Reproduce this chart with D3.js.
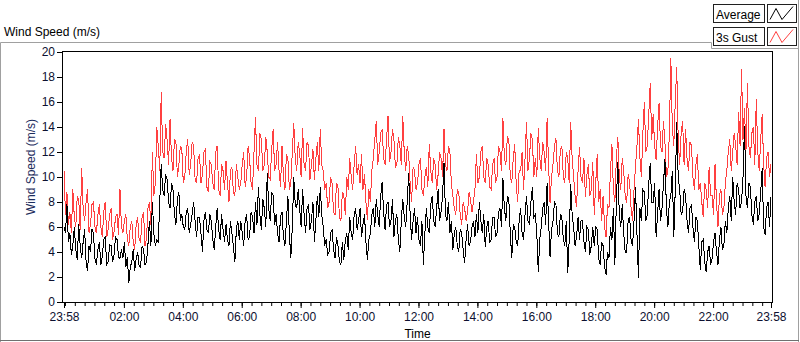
<!DOCTYPE html>
<html>
<head>
<meta charset="utf-8">
<script src="https://cdn.jsdelivr.net/npm/d3@7"></script>
<style>
  body { margin: 0; background: #fff; }
  svg { display: block; font-family: "Liberation Sans", Arial, sans-serif; }
</style>
</head>
<body>
<div id="chart"></div>
<script>
// one sample every 3 minutes, from 23:58 to 23:58 next day
var stepMinutes = 3;

var gustSpeed = [
  10.5, 7.0, 8.8, 6.2, 7.2, 5.5, 9.0, 6.8, 6.0, 8.5, 8.2, 5.8, 10.7, 7.5, 6.5, 8.0, 9.0, 5.5, 6.2, 7.8,
  8.0, 6.0, 5.5, 7.0, 7.8, 6.0, 5.2, 7.2, 8.0, 5.2, 5.8, 7.0, 7.5, 5.0, 5.6, 6.8, 7.0, 5.4, 9.0, 6.0,
  5.5, 6.5, 7.0, 5.0, 4.5, 6.0, 6.5, 4.8, 4.2, 6.2, 6.8, 5.0, 4.8, 6.8, 7.2, 4.5, 5.0, 7.5, 8.0, 6.2,
  12.0, 8.5, 9.5, 14.0, 12.5, 10.5, 16.8, 12.0, 11.5, 14.2, 13.0, 11.0, 14.6, 11.5, 10.5, 13.0, 12.8, 10.0, 11.0, 12.5,
  12.2, 9.5, 10.0, 12.0, 13.0, 10.2, 11.0, 12.8, 12.5, 9.8, 9.5, 11.5, 11.8, 9.5, 10.2, 12.0, 12.2, 9.2, 8.8, 11.2,
  11.0, 9.5, 9.0, 12.0, 12.5, 9.0, 8.5, 11.0, 10.5, 9.0, 11.3, 9.5, 8.0, 10.5, 10.8, 8.8, 8.5, 11.0, 10.0, 9.0,
  9.5, 11.0, 12.0, 9.2, 10.0, 12.5, 11.5, 9.5, 9.0, 12.0, 14.8, 11.0, 10.5, 13.5, 13.0, 10.5, 11.0, 13.2, 12.0, 10.0,
  9.8, 12.2, 13.8, 10.5, 11.0, 12.8, 10.5, 9.2, 12.5, 10.0, 9.0, 11.8, 11.5, 9.0, 9.5, 12.0, 14.3, 11.5, 10.5, 12.8,
  12.0, 10.0, 13.9, 11.0, 10.5, 12.8, 12.5, 9.8, 11.0, 12.2, 9.8, 11.5, 12.8, 10.5, 13.8, 11.0, 10.5, 9.0, 9.5, 7.5,
  8.0, 10.0, 9.5, 7.2, 7.0, 9.5, 9.2, 6.8, 6.5, 8.8, 8.5, 7.0, 10.0, 9.0, 11.5, 10.0, 9.0, 11.0, 12.5, 10.2,
  11.0, 9.5, 11.8, 9.0, 10.2, 8.0, 6.6, 9.0, 8.0, 10.5, 11.5, 13.0, 14.5, 11.0, 12.0, 13.5, 13.8, 11.5, 11.0, 13.0,
  14.9, 11.2, 12.0, 13.8, 13.0, 10.8, 11.0, 13.2, 12.5, 11.0, 14.9, 12.0, 10.5, 12.5, 11.8, 9.5, 8.0, 10.8, 10.5, 9.0,
  9.5, 11.0, 11.5, 9.0, 8.5, 10.0, 10.8, 9.2, 12.6, 10.5, 9.5, 11.5, 11.0, 9.0, 10.2, 12.0, 11.5, 10.0, 13.8, 11.0,
  10.5, 12.5, 12.0, 9.5, 8.5, 7.5, 7.0, 9.0, 8.8, 7.0, 6.2, 8.0, 7.5, 6.5, 7.2, 8.8, 8.2, 7.2, 8.0, 9.0,
  11.8, 9.5, 10.0, 12.0, 12.5, 10.0, 9.5, 11.5, 11.0, 9.2, 9.0, 11.0, 11.5, 9.5, 10.0, 12.5, 12.0, 10.5, 14.7, 11.5,
  11.0, 13.2, 13.0, 10.0, 9.5, 11.5, 12.6, 9.5, 8.0, 10.5, 10.5, 12.0, 9.0, 11.5, 14.4, 10.5, 11.5, 13.5, 13.0, 10.0,
  11.5, 10.0, 13.9, 11.5, 10.5, 12.8, 12.0, 10.5, 14.7, 11.0, 7.9, 10.0, 11.0, 12.5, 13.1, 10.5, 10.0, 12.2, 12.5, 10.0,
  9.5, 12.0, 11.5, 9.5, 14.4, 11.5, 10.0, 8.5, 7.6, 10.5, 12.4, 10.0, 9.5, 11.5, 8.4, 10.2, 11.0, 8.5, 9.0, 11.2,
  7.0, 9.5, 11.8, 8.0, 9.0, 6.5, 8.5, 6.0, 5.2, 7.8, 7.5, 10.5, 12.6, 9.0, 8.0, 11.5, 13.2, 10.0, 9.0, 11.5,
  10.5, 8.5, 7.9, 10.2, 9.6, 7.5, 6.5, 9.0, 10.8, 12.5, 14.6, 11.5, 10.0, 13.5, 16.0, 12.0, 12.5, 15.0, 17.5, 13.0,
  15.0, 12.5, 11.4, 14.0, 15.9, 12.5, 12.0, 14.5, 12.8, 10.0, 10.5, 13.5, 19.5, 14.0, 12.5, 16.0, 18.8, 13.0, 11.0, 13.5,
  14.5, 11.0, 13.8, 11.5, 10.5, 12.8, 12.5, 10.0, 9.0, 11.0, 11.8, 9.0, 9.5, 8.0, 6.8, 9.5, 9.0, 7.5, 10.8, 8.5,
  8.5, 7.0, 11.0, 8.0, 6.0, 8.5, 9.0, 7.0, 7.5, 9.5, 10.5, 12.0, 13.0, 10.5, 12.0, 13.5, 12.5, 11.0, 15.2, 12.5,
  18.6, 13.0, 15.5, 12.0, 17.5, 12.5, 11.5, 13.5, 14.0, 11.0, 16.2, 12.0, 10.5, 13.0, 15.0, 11.0, 9.2, 11.5, 12.0, 10.0,
  11.0
];

var avgSpeed = [
  6.0, 5.5, 7.8, 4.8, 5.5, 3.8, 4.5, 6.0, 4.2, 3.4, 6.2, 4.5, 3.5, 4.8, 5.8, 3.2, 2.5, 4.5, 4.0, 5.8,
  5.5, 3.5, 3.0, 4.2, 4.8, 3.0, 3.6, 5.0, 5.2, 3.0, 3.2, 4.6, 4.5, 3.2, 3.8, 5.2, 5.0, 3.6, 3.5, 4.2,
  3.5, 4.8, 2.8, 3.6, 1.5, 2.8, 3.2, 4.2, 2.5, 3.5, 4.0, 2.9, 2.8, 4.5, 4.2, 3.0, 3.2, 4.6, 6.5, 4.5,
  8.0, 5.5, 4.5, 5.0, 4.8, 8.0, 11.0, 9.0, 8.5, 10.2, 9.8, 8.0, 7.5, 9.5, 9.0, 7.0, 6.2, 8.2, 8.8, 6.5,
  7.0, 6.0, 5.8, 7.2, 7.5, 5.5, 6.2, 7.0, 8.0, 6.5, 5.2, 6.8, 6.8, 5.5, 4.0, 6.5, 7.2, 5.8, 5.5, 7.0,
  6.5, 5.0, 4.2, 6.0, 7.5, 5.8, 5.0, 7.0, 5.8, 4.8, 6.2, 5.0, 4.5, 6.5, 5.5, 4.5, 3.2, 5.8, 6.5, 5.0,
  6.5, 5.5, 4.5, 6.5, 7.0, 5.0, 5.2, 7.2, 6.8, 5.5, 8.0, 6.2, 9.2, 7.0, 5.8, 8.2, 7.5, 6.0, 10.3, 7.5,
  6.5, 8.8, 8.5, 6.2, 7.0, 5.5, 4.8, 6.8, 7.2, 5.2, 4.5, 6.5, 8.5, 5.5, 3.5, 6.0, 10.0, 7.8, 7.5, 9.0,
  7.5, 6.0, 9.0, 7.0, 5.5, 7.5, 7.8, 5.8, 6.5, 8.0, 4.8, 6.5, 8.5, 6.8, 9.2, 7.0, 6.0, 4.5, 5.0, 3.8,
  4.0, 5.5, 5.8, 4.2, 3.5, 5.2, 4.5, 3.2, 3.0, 4.8, 3.4, 5.0, 5.5, 4.2, 6.8, 5.5, 5.0, 7.0, 7.5, 5.8,
  6.5, 7.5, 5.2, 6.2, 7.0, 4.8, 3.4, 5.0, 5.5, 7.0, 7.5, 6.0, 8.2, 7.0, 6.0, 8.5, 9.6, 7.2, 5.8, 7.8,
  8.0, 6.0, 6.5, 8.2, 5.2, 6.5, 7.0, 5.0, 4.0, 6.5, 8.2, 6.8, 6.0, 8.0, 10.3, 7.0, 5.0, 6.5, 7.5, 5.5,
  6.8, 5.0, 4.5, 6.5, 3.0, 5.5, 7.5, 6.0, 5.5, 7.8, 8.5, 6.5, 6.0, 7.5, 9.0, 6.5, 7.2, 8.5, 11.1, 7.0,
  6.5, 8.0, 5.5, 6.5, 4.2, 5.5, 6.0, 4.5, 4.0, 5.8, 5.5, 4.2, 3.1, 5.0, 6.2, 4.5, 4.8, 6.0, 6.5, 5.2,
  7.0, 5.5, 8.0, 6.5, 5.5, 7.0, 4.4, 6.0, 6.5, 4.8, 5.0, 6.8, 6.8, 5.2, 5.5, 7.2, 7.5, 6.0, 9.9, 7.5,
  6.5, 8.5, 8.2, 5.5, 3.5, 6.2, 6.0, 4.8, 4.5, 6.5, 7.5, 5.5, 5.0, 7.0, 8.5, 6.5, 6.2, 8.0, 9.2, 6.8,
  7.0, 5.5, 2.4, 5.0, 6.0, 7.5, 8.0, 6.2, 9.5, 6.5, 3.6, 5.8, 6.5, 8.0, 7.8, 5.5, 5.2, 7.0, 6.8, 5.0,
  4.5, 6.5, 2.3, 5.0, 9.4, 7.0, 6.0, 4.5, 5.2, 6.8, 5.0, 6.5, 6.5, 4.8, 4.0, 6.0, 5.8, 3.8, 4.5, 6.0,
  4.5, 6.0, 5.8, 3.5, 3.0, 4.8, 4.5, 2.8, 2.2, 4.0, 3.5, 6.0, 5.0, 7.5, 3.0, 8.0, 11.2, 7.0, 6.0, 7.8,
  5.5, 4.0, 4.0, 6.5, 6.8, 5.0, 4.5, 6.5, 9.2, 5.5, 1.9, 7.5, 6.5, 9.0, 8.8, 6.5, 7.0, 9.5, 11.1, 8.0,
  8.0, 9.5, 5.2, 7.0, 9.0, 6.5, 7.5, 9.5, 11.4, 7.5, 6.0, 8.0, 8.5, 10.5, 5.2, 9.0, 14.4, 10.0, 9.0, 7.0,
  7.2, 9.0, 8.5, 6.5, 5.5, 7.5, 7.8, 6.0, 4.8, 6.8, 6.5, 4.5, 2.6, 4.8, 5.0, 3.2, 2.4, 4.0, 4.5, 3.0,
  3.5, 4.8, 5.5, 4.0, 3.0, 5.0, 6.0, 4.2, 4.5, 6.5, 5.5, 7.5, 8.5, 6.5, 10.0, 8.0, 7.0, 9.5, 9.0, 7.5,
  8.0, 10.0, 14.1, 8.5, 7.5, 9.5, 9.2, 7.0, 6.2, 8.0, 8.5, 6.5, 7.0, 8.8, 10.7, 6.0, 5.4, 7.5, 8.0, 6.0,
  8.4
];

var yTicks = [0, 2, 4, 6, 8, 10, 12, 14, 16, 18, 20];
// minutes since 23:58 for each labelled tick
var xTickMinutes = [0, 122, 242, 362, 482, 602, 722, 842, 962, 1082, 1202, 1322, 1440];
var xTickLabels = ["23:58", "02:00", "04:00", "06:00", "08:00", "10:00", "12:00",
                   "14:00", "16:00", "18:00", "20:00", "22:00", "23:58"];
var seriesNames = ["Average", "3s Gust"];
var seriesColors = ["#000000", "#ff4040"];

var W = 800, H = 342;
var svg = d3.select("#chart").append("svg").attr("width", W).attr("height", H);

// panel frame
var frame = svg.append("g").attr("fill", "none").attr("stroke", "#a0a0a0");
frame.append("path").attr("d", "M0.5,342 V42.5 H711.5 V48.5 H798.5");
frame.append("path").attr("d", "M798.5,0 V342");
frame.append("path").attr("d", "M0,340.5 H799").attr("stroke", "#707070");

svg.append("text").attr("x", 4).attr("y", 36).attr("font-size", 12)
  .attr("fill", "#000").text("Wind Speed (m/s)");

// scales
var x = d3.scaleLinear().domain([0, 1440]).range([64, 771]);
var y = d3.scaleLinear().domain([0, 20]).range([302, 52]);

// y axis
var yAxis = svg.append("g").attr("transform", "translate(62,0)")
  .call(d3.axisLeft(y).tickValues(yTicks).tickSize(5).tickPadding(2));
yAxis.select(".domain").remove();
yAxis.selectAll("text").attr("font-size", 12).attr("font-family", null).attr("fill", "#0d1030");

// x axis minor ticks every 20 min from 00:00
var minorMinutes = d3.range(2, 1440, 20);
var xMinor = svg.append("g").attr("transform", "translate(0,303)")
  .call(d3.axisBottom(x).tickValues(minorMinutes).tickSize(3).tickFormat(""));
xMinor.select(".domain").remove();

var xAxis = svg.append("g").attr("transform", "translate(0,303)")
  .call(d3.axisBottom(x).tickValues(xTickMinutes).tickSize(5).tickPadding(4)
    .tickFormat(function(d, i) { return xTickLabels[i]; }));
xAxis.select(".domain").remove();
xAxis.selectAll("text").attr("font-size", 12).attr("font-family", null).attr("fill", "#0d1030");

// plot area
svg.append("clipPath").attr("id", "plotclip").append("rect")
  .attr("x", 62).attr("y", 51).attr("width", 711).attr("height", 252);

var line = d3.line()
  .x(function(d, i) { return x(i * stepMinutes); })
  .y(function(d) { return y(d); });

var plots = svg.append("g").attr("clip-path", "url(#plotclip)")
  .style("shape-rendering", "crispEdges");
plots.append("path").datum(gustSpeed)
  .attr("fill", "none").attr("stroke", seriesColors[1]).attr("stroke-width", 1)
  .attr("d", line);
plots.append("path").datum(avgSpeed)
  .attr("fill", "none").attr("stroke", seriesColors[0]).attr("stroke-width", 1)
  .attr("d", line);

svg.append("rect").attr("x", 62.5).attr("y", 51.5).attr("width", 710).attr("height", 251)
  .attr("fill", "none").attr("stroke", "#000");

// axis titles
svg.append("text").attr("x", (62 + 773) / 2).attr("y", 338).attr("text-anchor", "middle")
  .attr("font-size", 12).attr("fill", "#000").text("Time");
svg.append("text").attr("transform", "translate(35,167) rotate(-90)")
  .attr("text-anchor", "middle").attr("font-size", 12).attr("fill", "#1c2c5c")
  .text("Wind Speed (m/s)");

// legend
var legend = svg.append("g");
seriesNames.forEach(function(name, i) {
  var top = 4.5 + i * 23;
  legend.append("rect").attr("x", 713.5).attr("y", top).attr("width", 51).attr("height", 18)
    .attr("fill", "#fff").attr("stroke", "#202020");
  legend.append("text").attr("x", 716).attr("y", top + 14).attr("font-size", 12)
    .attr("fill", "#000").text(name);
  legend.append("rect").attr("x", 767.5).attr("y", top).attr("width", 29).attr("height", 18)
    .attr("fill", "#fff").attr("stroke", "#202020");
  legend.append("path")
    .attr("d", "M770," + (top + 15) + " L776," + (top + 4) + " L782," + (top + 15) + " L793," + (top + 2))
    .attr("fill", "none").attr("stroke", seriesColors[i]);
});
</script>
</body>
</html>
